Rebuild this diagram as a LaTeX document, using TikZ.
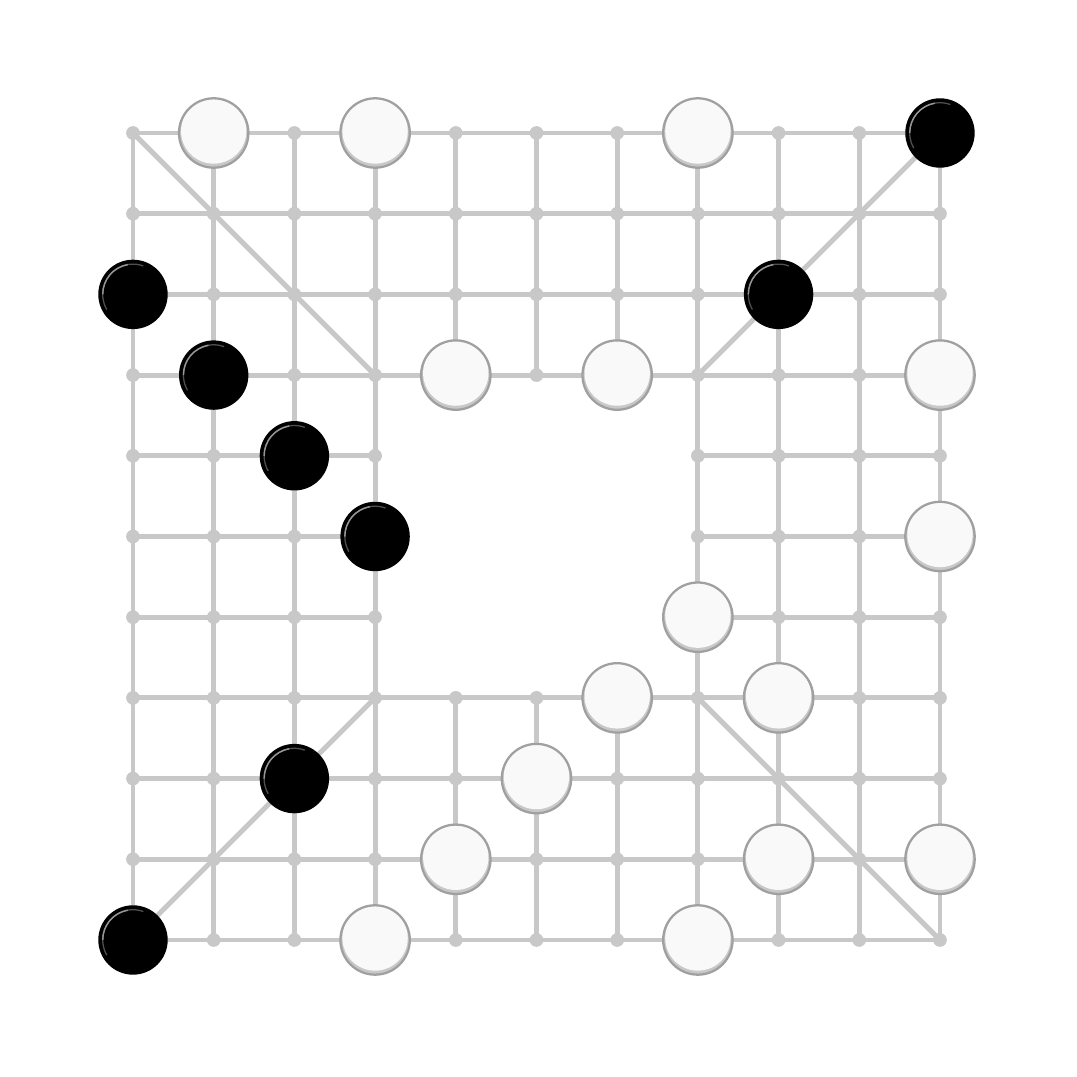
\documentclass[tikz,border=0pt]{standalone}
\definecolor{gridc}{RGB}{200,200,200}
\definecolor{wfill}{RGB}{249,249,249}
\definecolor{wedge}{RGB}{160,160,160}
\definecolor{wshade}{RGB}{200,200,200}
\definecolor{bhigh}{RGB}{150,150,150}
\definecolor{bfaint}{RGB}{80,80,80}
\tikzset{
 gridline/.style={gridc, line width=1.75pt},
 gdot/.style={circle, fill=gridc, inner sep=0pt, minimum size=0.17cm},
 wstone/.style={circle, inner sep=0pt, minimum size=0.86cm, draw=wedge, line width=0.8pt,
   path picture={
     \fill[wshade] (path picture bounding box.center) circle (0.44cm);
     \fill[wfill] ([yshift=0.025cm]path picture bounding box.center) circle (0.405cm);}},
 bstone/.style={circle, inner sep=0pt, minimum size=0.86cm, fill=black,
   path picture={
     \draw[bfaint, line width=0.45pt] ([shift={(70:0.375cm)}]path picture bounding box.center) arc (70:210:0.375cm);
     \draw[bhigh, line width=0.5pt] ([shift={(100:0.375cm)}]path picture bounding box.center) arc (100:180:0.375cm);}},
}
\begin{document}
\begin{tikzpicture}
\useasboundingbox (-1.648,1.648) rectangle (11.698,-11.698);
\foreach \i in {0,...,10}{\foreach \j in {0,...,10}{\coordinate (p-\i-\j) at (\i,-\j);}}
% horizontal lines
\foreach \j in {0,1,2,3,7,8,9,10}{\draw[gridline] (p-0-\j) -- (p-10-\j);}
\foreach \j in {4,5,6}{\draw[gridline] (p-0-\j) -- (p-3-\j); \draw[gridline] (p-7-\j) -- (p-10-\j);}
% vertical lines
\foreach \i in {0,1,2,3,7,8,9,10}{\draw[gridline] (p-\i-0) -- (p-\i-10);}
\foreach \i in {4,5,6}{\draw[gridline] (p-\i-0) -- (p-\i-3); \draw[gridline] (p-\i-7) -- (p-\i-10);}
% diagonals
\draw[gridline] (p-0-0) -- (p-3-3);
\draw[gridline] (p-10-0) -- (p-7-3);
\draw[gridline] (p-0-10) -- (p-3-7);
\draw[gridline] (p-7-7) -- (p-10-10);
% dots
\foreach \i in {0,...,10}{\foreach \j in {0,...,10}{
  \pgfmathtruncatemacro{\inside}{(\i>3)&&(\i<7)&&(\j>3)&&(\j<7)}
  \ifnum\inside=0 \node[gdot] (d-\i-\j) at (p-\i-\j) {};\fi}}
% white stones
\foreach \i/\j [count=\n] in {1/0,3/0,7/0,4/3,6/3,10/3,10/5,7/6,6/7,8/7,5/8,4/9,8/9,10/9,3/10,7/10}{
  \node[wstone] (w\n) at (p-\i-\j) {};}
% black stones
\foreach \i/\j [count=\n] in {10/0,0/2,8/2,1/3,2/4,3/5,2/8,0/10}{
  \node[bstone] (b\n) at (p-\i-\j) {};}
\end{tikzpicture}
\end{document}
